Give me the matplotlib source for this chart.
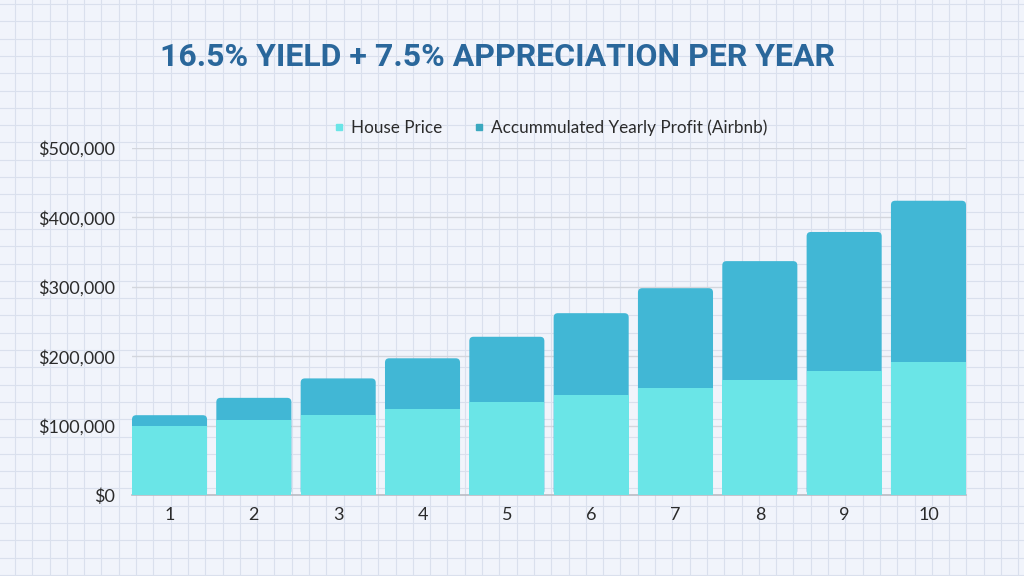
import matplotlib
matplotlib.use("Agg")
import matplotlib.pyplot as plt
import numpy as np
from matplotlib.patches import FancyBboxPatch
from matplotlib.ticker import FuncFormatter

years = [1, 2, 3, 4, 5, 6, 7, 8, 9, 10]
house_price = [100000, 107500, 115600, 124200, 133500, 143600, 154300, 165900, 178400, 191800]
total_value = [115000, 140000, 168000, 197000, 228000, 262000, 298000, 337000, 379000, 424000]

title = "16.5% YIELD + 7.5% APPRECIATION PER YEAR"
labels = ["House Price", "Accummulated Yearly Profit (Airbnb)"]

c_house = "#6ae5e7"
c_profit = "#41b7d5"
bg = "#f1f4fb"

fig = plt.figure(figsize=(10.24, 5.76), dpi=100, facecolor=bg)

# background grid paper
bg_ax = fig.add_axes([0, 0, 1, 1], zorder=-5)
bg_ax.set_xlim(0, 1024)
bg_ax.set_ylim(576, 0)
bg_ax.set_facecolor(bg)
bg_ax.set_xticks(np.arange(15, 1024, 17.3))
bg_ax.set_yticks(np.arange(4, 576, 17.3))
bg_ax.grid(color="#dae0ed", lw=0.8)
bg_ax.tick_params(length=0, labelbottom=False, labelleft=False)
for s in bg_ax.spines.values():
    s.set_visible(False)

ax = fig.add_axes([132 / 1024, 1 - 495 / 576, (966 - 132) / 1024, (495 - 148) / 576])
ax.patch.set_alpha(0)

w = 0.89
x = np.array(years, dtype=float)
xpx = (966 - 132) / (9 + w)          # px per x unit
ypx = (495 - 148) / 500000           # px per dollar
for xi, tot in zip(x, total_value):
    p = FancyBboxPatch((xi - w / 2, 0), w, tot,
                       boxstyle="round,pad=0,rounding_size=0.05",
                       mutation_aspect=xpx / ypx,
                       fc=c_profit, ec="none", zorder=2)
    ax.add_patch(p)
ax.bar(x, house_price, width=w, color=c_house, zorder=3)

ax.set_xlim(1 - w / 2, 10 + w / 2)
ax.set_ylim(0, 500000)
ax.set_yticks(np.arange(0, 500001, 100000))
ax.yaxis.set_major_formatter(FuncFormatter(lambda v, _: f"${v:,.0f}"))
ax.set_xticks(x)
ax.set_xticklabels([str(y) for y in years])
ax.grid(axis="y", color="#d3d6dd", lw=1, zorder=0)
ax.tick_params(length=0, labelsize=13, labelcolor="#2b2b2b", pad=9)
ax.tick_params(axis="y", pad=12)
for s in ["top", "right", "left"]:
    ax.spines[s].set_visible(False)
ax.spines["bottom"].set_color("#b9bcc4")
ax.spines["bottom"].set_linewidth(1.2)
for t in ax.get_xticklabels() + ax.get_yticklabels():
    t.set_fontfamily("Lato")

# legend
handles = [plt.Line2D([], [], marker="s", ls="", color=c, markersize=5) for c in (c_house, "#3aa8bf")]
fig.legend(handles, labels, loc="center", bbox_to_anchor=(548 / 1024, 1 - 128 / 576),
           ncol=2, frameon=False, handletextpad=0.1, handlelength=1.2, columnspacing=1.6,
           prop={"family": "Lato", "size": 12.3}, labelcolor="#2b2b2b")

fig.text(497 / 1024, 1 - 57 / 576, title, ha="center", va="center",
         fontsize=23, fontweight="bold", color="#2a679b", family="Roboto")

fig.savefig("out.png", dpi=100, facecolor=bg)
